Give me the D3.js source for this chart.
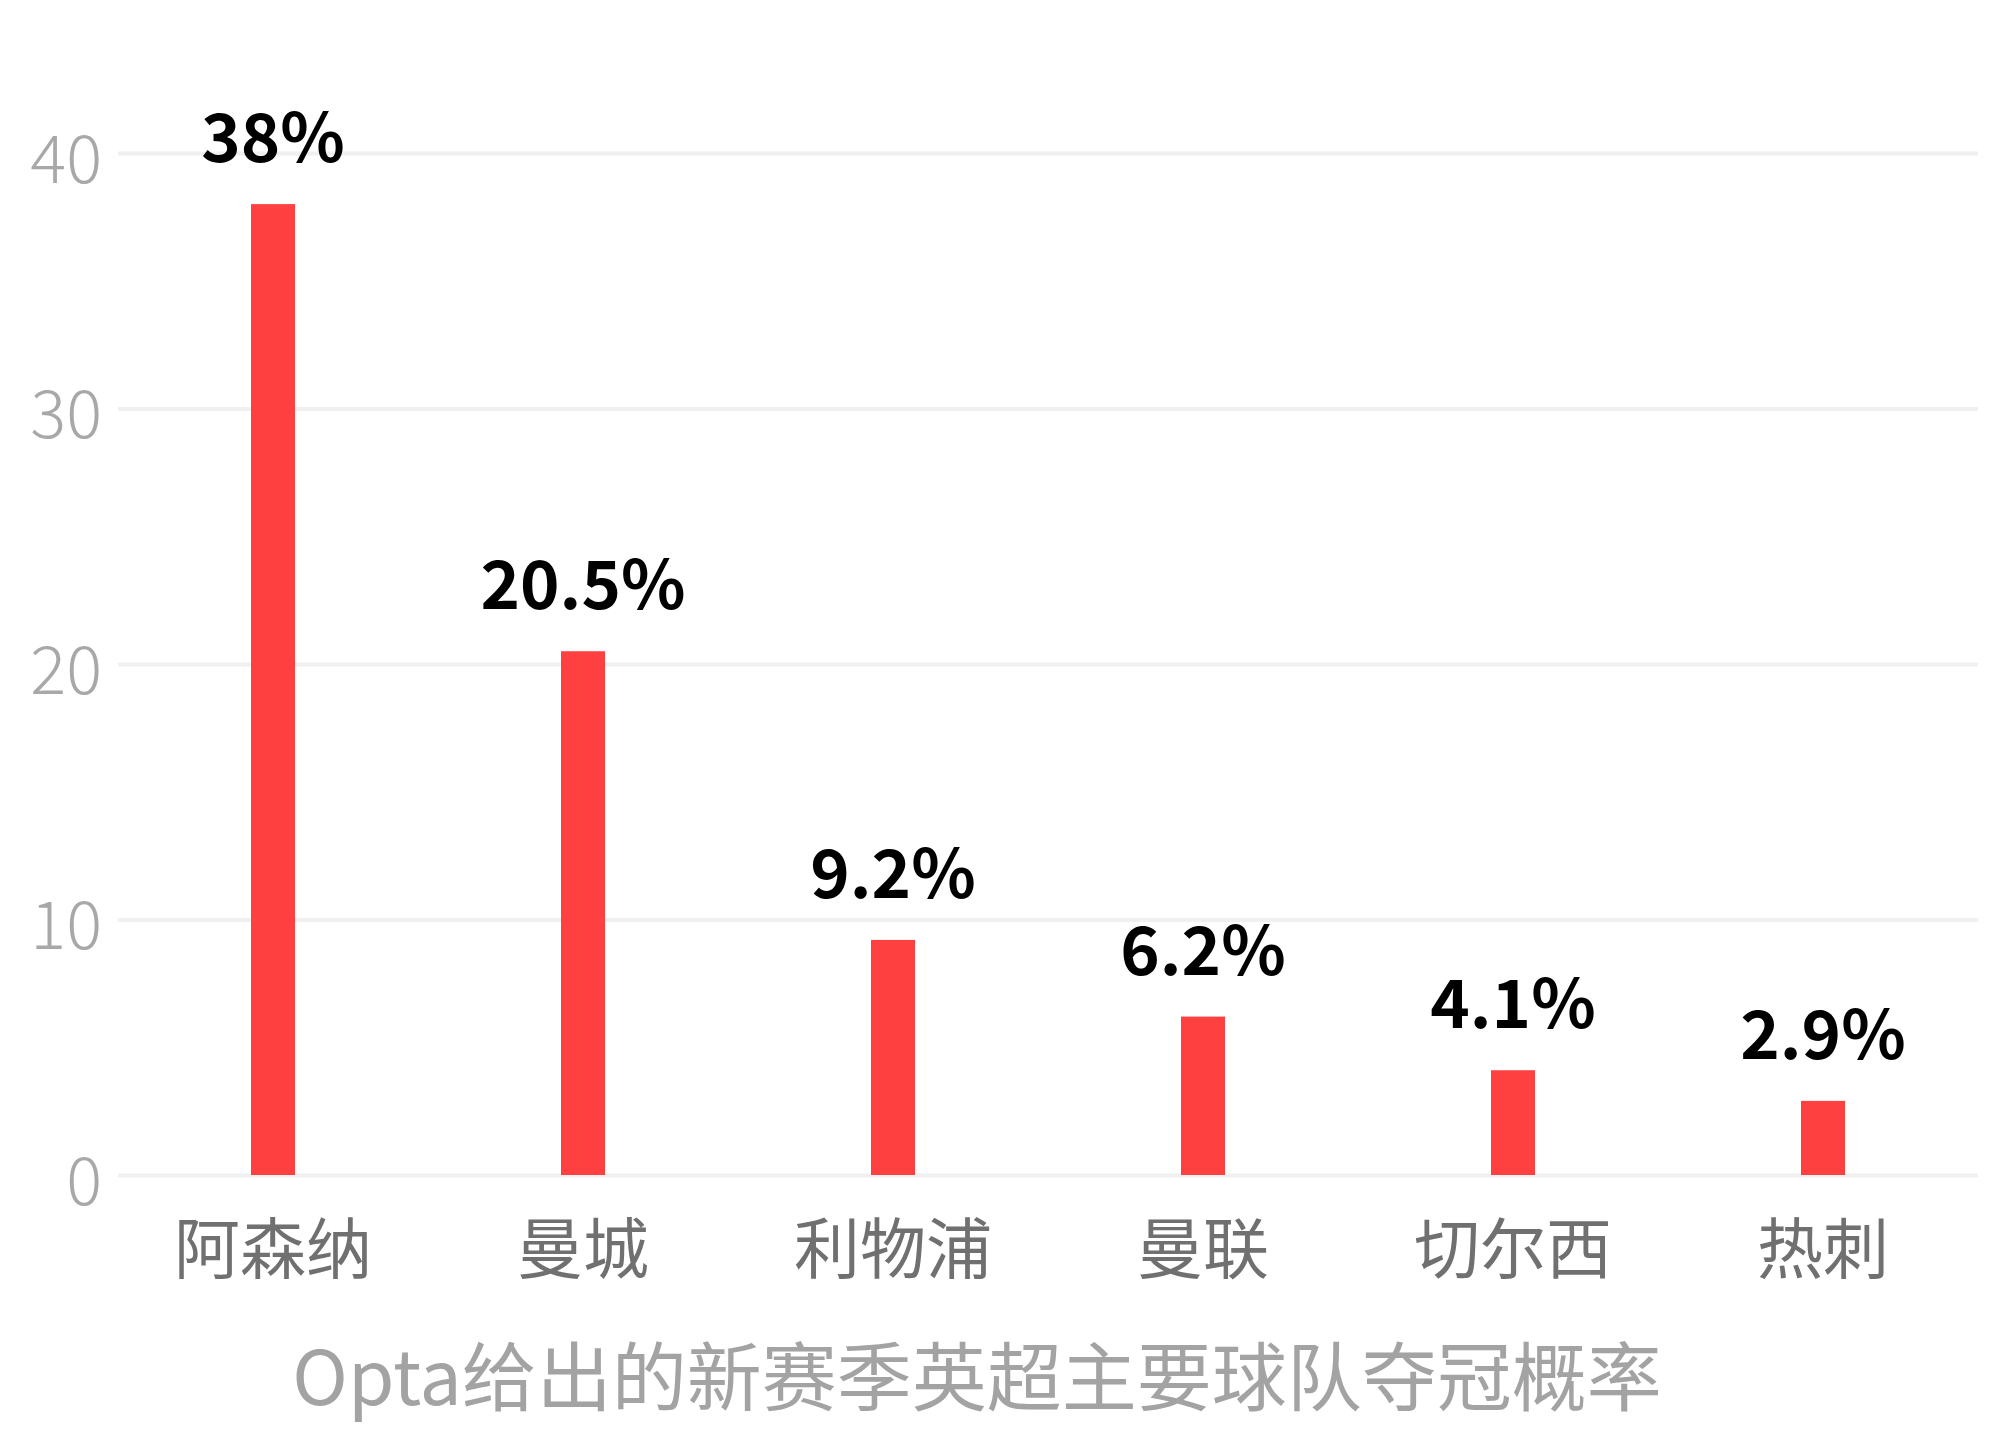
<!DOCTYPE html>
<html>
<head>
<meta charset="utf-8">
<script src="https://cdn.jsdelivr.net/npm/d3@7"></script>
<style>
  html, body { margin: 0; padding: 0; background: #fff; }
  svg { display: block; font-family: "Noto Sans CJK SC", "Noto Sans", sans-serif; }
</style>
</head>
<body>
<svg id="chart" width="2009" height="1451"></svg>
<script>
// data
var teams = ["阿森纳", "曼城", "利物浦", "曼联", "切尔西", "热刺"];
var chances = [38, 20.5, 9.2, 6.2, 4.1, 2.9];
var yTicks = [0, 10, 20, 30, 40];
var title = "Opta给出的新赛季英超主要球队夺冠概率";

var FONT = '"Noto Sans CJK SC", "Noto Sans", sans-serif';

var svg = d3.select("#chart");

var margins = {
    top: 153,
    bottom: 276,
    left: 118,
    right: 31
};

var width = 2009 - margins.left - margins.right;
var height = 1451 - margins.top - margins.bottom;

var x = d3.scaleBand()
    .domain(teams)
    .range([margins.left, margins.left + width])
    .padding(0);

var y = d3.scaleLinear()
    .domain([0, 40])
    .range([margins.top + height, margins.top]);

var barWidth = 44;

// gridlines + y labels
var yAxis = svg.append("g")
    .attr("class", "y-axis")
    .attr("transform", "translate(" + margins.left + ",0)")
    .call(d3.axisLeft(y).tickValues(yTicks).tickSize(-width).tickPadding(16));

yAxis.attr("font-family", null);
yAxis.select(".domain").remove();
yAxis.selectAll(".tick line")
    .attr("stroke", "#f0f0f0")
    .attr("stroke-width", 4);
yAxis.selectAll(".tick text")
    .attr("dy", "0.44em")
    .style("font-family", FONT)
    .style("font-size", "67px")
    .style("font-weight", "300")
    .attr("fill", "#a8a8a8");

// x labels
var xAxis = svg.append("g")
    .attr("class", "x-axis")
    .attr("transform", "translate(0," + (margins.top + height) + ")")
    .call(d3.axisBottom(x).tickSize(0).tickPadding(0));

xAxis.attr("font-family", null);
xAxis.select(".domain").remove();
xAxis.selectAll(".tick text")
    .attr("y", 98)
    .attr("dy", 0)
    .style("font-family", FONT)
    .style("font-size", "66px")
    .attr("fill", "#707070");

// bars
var rows = teams.map(function (t, i) { return { team: t, value: chances[i] }; });

svg.append("g").selectAll("rect")
    .data(rows)
    .enter().append("rect")
    .attr("x", d => x(d.team) + x.bandwidth() / 2 - barWidth / 2)
    .attr("y", d => y(d.value))
    .attr("width", barWidth)
    .attr("height", d => y(0) - y(d.value))
    .attr("fill", "#ff4040");

// value labels
svg.append("g").selectAll("text")
    .data(rows)
    .enter().append("text")
    .attr("x", d => x(d.team) + x.bandwidth() / 2)
    .attr("y", d => y(d.value) - 42)
    .attr("text-anchor", "middle")
    .style("font-size", "67px")
    .style("font-weight", "700")
    .attr("fill", "#000")
    .text(d => d.value + "%");

// title under the chart
svg.append("text")
    .attr("x", 977)
    .attr("y", 1405)
    .attr("text-anchor", "middle")
    .style("font-size", "75px")
    .attr("fill", "#a3a3a3")
    .text(title);
</script>
</body>
</html>
